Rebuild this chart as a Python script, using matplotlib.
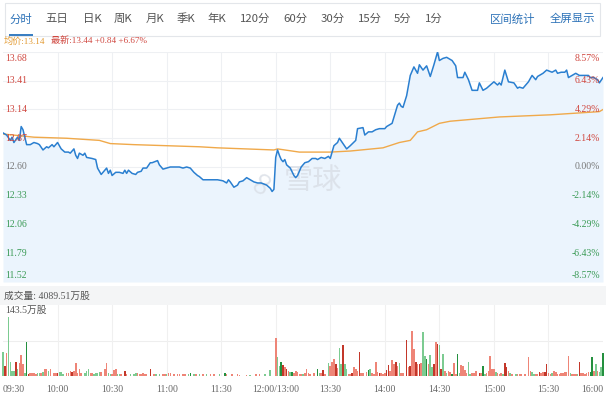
import matplotlib
matplotlib.use('Agg')
import matplotlib.pyplot as plt
from matplotlib.patches import Rectangle

# ---------------- data ----------------
tabs = ['分时', '五日', '日K', '周K', '月K', '季K', '年K', '120分', '60分', '30分', '15分', '5分', '1分']
tabs_right = ['区间统计', '全屏显示']

prev_close = 12.60
avg_price_now = 13.14
last_price = 13.44
change = 0.84
change_pct = 6.67
total_volume = '4089.51万股'
max_volume_label = '143.5万股'

price_ticks = [13.68, 13.41, 13.14, 12.87, 12.60, 12.33, 12.06, 11.79, 11.52]
pct_ticks = ['8.57%', '6.43%', '4.29%', '2.14%', '0.00%', '-2.14%', '-4.29%', '-6.43%', '-8.57%']

time_ticks = [0, 30, 60, 90, 120, 150, 180, 210, 240, 270, 300, 330]
time_labels = ['09:30', '10:00', '10:30', '11:00', '11:30', '12:00/13:00', '13:30',
               '14:00', '14:30', '15:00', '15:30', '16:00']

# minute index (0 = 09:30, 150 = 13:00, 330 = 16:00) and price
price_min = [0, 2, 4, 5, 6, 8, 9, 10, 11, 13, 15, 17, 19, 20, 22, 24, 25, 27, 28, 30,
             31, 32, 34, 36, 37, 39, 40, 41, 42, 44, 45, 46, 49, 51, 52, 54, 55, 57, 58, 59,
             60, 62, 64, 66, 67, 68, 69, 71, 73, 74, 76, 77, 79, 81, 82, 85, 86, 88, 90, 92,
             95, 97, 99, 101, 103, 105, 107, 108, 110, 112, 118, 121, 123, 124, 125, 127, 129, 130, 132, 134,
             136, 138, 140, 142, 145, 147, 148, 149, 150, 151, 152, 153, 154, 155, 156, 158, 160, 161, 162, 164,
             166, 168, 170, 172, 173, 175, 177, 179, 180, 182, 184, 185, 187, 189, 191, 194, 195, 198, 199, 201,
             203, 205, 207, 210, 211, 214, 217, 218, 219, 220, 222, 224, 226, 228, 229, 231, 233, 235, 237, 239,
             240, 242, 244, 247, 249, 250, 253, 254, 256, 258, 261, 262, 264, 266, 268, 270, 272, 273, 274, 276,
             278, 281, 283, 284, 286, 289, 291, 293, 294, 297, 299, 302, 304, 305, 307, 309, 310, 311, 313, 315,
             317, 322, 323, 325, 327, 328, 330]
price_val = [12.92, 12.90, 12.85, 12.88, 12.83, 12.88, 12.85, 12.98, 12.95, 12.81, 12.81, 12.83, 12.82, 12.81, 12.76, 12.79, 12.78, 12.81, 12.79, 12.83,
             12.80, 12.77, 12.74, 12.74, 12.73, 12.77, 12.71, 12.68, 12.73, 12.71, 12.73, 12.69, 12.68, 12.67, 12.59, 12.53, 12.55, 12.59, 12.54, 12.57,
             12.52, 12.55, 12.55, 12.54, 12.57, 12.54, 12.57, 12.54, 12.53, 12.55, 12.56, 12.59, 12.59, 12.64, 12.64, 12.66, 12.62, 12.58, 12.59, 12.60,
             12.60, 12.60, 12.59, 12.60, 12.59, 12.55, 12.52, 12.51, 12.48, 12.48, 12.48, 12.47, 12.45, 12.48, 12.46, 12.41, 12.43, 12.46, 12.47, 12.50,
             12.48, 12.46, 12.45, 12.45, 12.43, 12.40, 12.37, 12.39, 12.69, 12.76, 12.71, 12.67, 12.65, 12.67, 12.62, 12.59, 12.52, 12.50, 12.52, 12.60,
             12.64, 12.65, 12.68, 12.68, 12.67, 12.69, 12.68, 12.70, 12.68, 12.80, 12.83, 12.87, 12.82, 12.77, 12.80, 12.85, 12.96, 12.97, 12.90, 12.93,
             12.93, 12.95, 12.96, 12.96, 12.98, 13.01, 13.18, 13.20, 13.17, 13.16, 13.27, 13.46, 13.54, 13.48, 13.56, 13.51, 13.55, 13.45, 13.56, 13.68,
             13.60, 13.62, 13.63, 13.60, 13.55, 13.44, 13.44, 13.49, 13.42, 13.32, 13.32, 13.39, 13.32, 13.34, 13.37, 13.40, 13.37, 13.39, 13.37, 13.51,
             13.40, 13.39, 13.34, 13.35, 13.34, 13.40, 13.46, 13.42, 13.45, 13.48, 13.51, 13.49, 13.51, 13.48, 13.49, 13.49, 13.51, 13.44, 13.46, 13.48,
             13.46, 13.46, 13.44, 13.44, 13.42, 13.39, 13.44]

avg_min = [0, 17, 35, 53, 59, 72, 90, 108, 118, 149, 151, 163, 180, 191, 209, 218, 224, 228, 233, 240, 246, 273, 301, 328, 330]
avg_val = [12.91, 12.88, 12.87, 12.85, 12.82, 12.81, 12.80, 12.79, 12.78, 12.76, 12.77, 12.74, 12.74, 12.75, 12.78, 12.83, 12.85, 12.93, 12.95, 13.01, 13.03, 13.07, 13.09, 13.12, 13.14]

# volume per minute (万股) and bar shade: R light red, DR dark red, G light green, DG dark green
vol_min = [0, 1, 2, 3, 4, 5, 6, 7, 8, 9, 10, 11, 12, 13, 14, 15, 16, 17, 18, 19,
           20, 21, 22, 23, 24, 25, 26, 28, 29, 30, 31, 32, 33, 35, 36, 37, 38, 39, 40, 41,
           42, 43, 45, 46, 47, 48, 49, 50, 51, 52, 53, 54, 56, 57, 58, 59, 60, 61, 62, 63,
           64, 65, 67, 68, 70, 72, 73, 74, 75, 76, 77, 78, 79, 81, 83, 84, 86, 88, 89, 90,
           91, 92, 94, 96, 97, 99, 100, 102, 103, 105, 106, 108, 110, 112, 114, 116, 119, 122, 123, 126,
           129, 130, 134, 136, 139, 141, 144, 147, 150, 151, 152, 153, 154, 155, 156, 157, 158, 159, 160, 161,
           162, 163, 164, 165, 166, 167, 168, 169, 171, 173, 174, 175, 176, 177, 179, 180, 181, 182, 183, 184,
           185, 186, 187, 188, 189, 190, 191, 192, 193, 194, 195, 196, 197, 198, 200, 201, 202, 203, 204, 205,
           206, 207, 208, 209, 210, 211, 212, 213, 214, 215, 216, 217, 218, 219, 220, 222, 223, 224, 225, 226,
           227, 228, 229, 230, 231, 232, 233, 234, 235, 236, 237, 238, 239, 240, 241, 242, 243, 244, 245, 246,
           247, 248, 249, 250, 251, 252, 253, 254, 255, 256, 257, 258, 259, 260, 262, 263, 264, 265, 266, 267,
           268, 269, 270, 271, 272, 273, 274, 275, 276, 277, 278, 279, 280, 282, 283, 284, 285, 287, 289, 290,
           291, 292, 293, 294, 295, 296, 297, 298, 299, 300, 301, 302, 303, 304, 305, 306, 307, 308, 309, 310,
           311, 312, 313, 314, 315, 316, 317, 318, 319, 320, 321, 322, 323, 324, 325, 326, 327, 328, 329, 330]
vol_val = [60, 24, 57, 143.5, 34, 13, 13, 34, 17, 32, 52, 29, 8, 84, 6, 7, 8, 7, 4, 7,
           8, 7, 11, 18, 17, 13, 17, 7, 7, 8, 10, 10, 4, 7, 8, 13, 11, 13, 31, 8,
           17, 7, 7, 13, 18, 7, 7, 4, 7, 8, 10, 10, 18, 31, 8, 4, 6, 15, 17, 4,
           4, 6, 13, 4, 4, 6, 8, 7, 4, 6, 7, 4, 4, 18, 4, 4, 6, 4, 6, 6,
           8, 8, 4, 4, 4, 4, 4, 6, 8, 4, 4, 4, 4, 4, 4, 4, 6, 7, 6, 4,
           4, 3, 3, 3, 4, 4, 6, 14, 92, 46, 25, 35, 27, 21, 17, 13, 10, 10, 7, 13,
           11, 6, 6, 6, 8, 17, 7, 6, 7, 17, 8, 7, 15, 6, 31, 25, 35, 42, 29, 19,
           69, 29, 76, 29, 17, 4, 6, 8, 21, 18, 13, 60, 8, 7, 10, 14, 18, 8, 6, 35,
           10, 8, 8, 4, 8, 14, 27, 13, 38, 29, 34, 25, 31, 7, 7, 88, 21, 25, 111, 66,
           35, 29, 29, 31, 107, 49, 42, 29, 52, 21, 29, 84, 78, 76, 17, 53, 13, 8, 13, 10,
           4, 31, 4, 55, 8, 27, 25, 14, 8, 35, 6, 8, 8, 13, 7, 8, 24, 4, 8, 13,
           50, 18, 18, 10, 7, 6, 7, 4, 31, 23, 13, 8, 4, 6, 4, 4, 6, 6, 46, 13,
           11, 4, 4, 6, 11, 8, 10, 11, 29, 8, 6, 8, 13, 10, 6, 4, 8, 7, 10, 10,
           49, 8, 6, 6, 4, 6, 34, 7, 8, 6, 8, 10, 11, 46, 13, 29, 13, 10, 23, 57]
vol_col = ['G', 'DR', 'R', 'G', 'G', 'G', 'G', 'DR', 'G', 'R', 'R', 'R', 'G', 'DG', 'DR', 'R', 'R', 'R', 'R', 'G',
           'G', 'R', 'G', 'R', 'R', 'G', 'R', 'R', 'R', 'DR', 'G', 'G', 'G', 'R', 'R', 'R', 'DR', 'R', 'R', 'R',
           'R', 'R', 'G', 'G', 'G', 'R', 'R', 'G', 'G', 'G', 'G', 'R', 'R', 'R', 'G', 'G', 'R', 'R', 'R', 'G',
           'G', 'R', 'DR', 'R', 'G', 'G', 'G', 'R', 'R', 'R', 'R', 'R', 'R', 'DR', 'R', 'G', 'G', 'R', 'R', 'G',
           'R', 'R', 'R', 'R', 'R', 'R', 'R', 'G', 'DG', 'G', 'R', 'G', 'R', 'G', 'R', 'R', 'G', 'DG', 'R', 'R',
           'R', 'R', 'R', 'G', 'R', 'R', 'G', 'G', 'R', 'G', 'G', 'DG', 'DR', 'R', 'DR', 'R', 'G', 'DG', 'R', 'R',
           'R', 'R', 'R', 'G', 'R', 'R', 'R', 'R', 'R', 'DG', 'G', 'R', 'DR', 'R', 'G', 'R', 'R', 'R', 'DR', 'R',
           'G', 'G', 'DR', 'G', 'G', 'R', 'R', 'DR', 'R', 'R', 'R', 'DR', 'R', 'R', 'R', 'DG', 'G', 'R', 'R', 'R',
           'R', 'DR', 'R', 'R', 'R', 'DR', 'DR', 'R', 'R', 'R', 'DR', 'R', 'G', 'R', 'R', 'DR', 'R', 'DR', 'R', 'R',
           'DR', 'R', 'DR', 'R', 'G', 'G', 'DG', 'R', 'G', 'G', 'DR', 'R', 'DR', 'G', 'DR', 'G', 'R', 'G', 'R', 'R',
           'DG', 'R', 'R', 'DG', 'G', 'R', 'R', 'R', 'R', 'G', 'G', 'R', 'R', 'R', 'DR', 'R', 'DG', 'G', 'R', 'R',
           'R', 'R', 'R', 'G', 'R', 'R', 'R', 'G', 'DR', 'DR', 'R', 'G', 'R', 'G', 'R', 'R', 'R', 'R', 'R', 'R',
           'G', 'G', 'R', 'R', 'DR', 'R', 'R', 'DR', 'DR', 'R', 'R', 'G', 'R', 'R', 'R', 'R', 'R', 'R', 'R', 'R',
           'R', 'G', 'R', 'R', 'R', 'G', 'DR', 'R', 'R', 'R', 'R', 'R', 'DG', 'DG', 'R', 'G', 'R', 'G', 'G', 'DG']

# ---------------- styling ----------------
W, H = 606, 400
CJK = ['Noto Sans CJK SC', 'DejaVu Sans']
SERIF = ['Liberation Serif', 'Noto Sans CJK SC', 'DejaVu Sans']
BLUE_TXT = '#2e73b8'
RED = '#d0473f'
GREEN = '#3a9a55'
GRAY = '#777777'
shade = {'R': '#ee8577', 'DR': '#c3372a', 'G': '#7ccb91', 'DG': '#24903f'}

fig = plt.figure(figsize=(W / 100, H / 100), dpi=100)
fig.patch.set_facecolor('white')


def fx(x):
    return x / W


def fy(y):
    return 1 - y / H


# tab bar
fig.patches.append(Rectangle((fx(5), fy(36)), fx(595), 33 / H, transform=fig.transFigure,
                             fill=False, edgecolor='#e3e6ea', lw=0.8))
fig.patches.append(Rectangle((fx(9), fy(36)), fx(24), 2.5 / H, transform=fig.transFigure,
                             facecolor='#3a7fc2', edgecolor='none'))
tab_x = [21, 57, 92, 123, 155, 186, 217, 255, 295, 333, 370, 403, 434]
for t, x in zip(tabs, tab_x):
    fig.text(fx(x), fy(19), t, ha='center', va='center', fontsize=8.2, family=CJK,
             color=BLUE_TXT if t == '分时' else '#555555')
for t, x in zip(tabs_right, [513, 572]):
    fig.text(fx(x), fy(19), t, ha='center', va='center', fontsize=8.2, family=CJK, color=BLUE_TXT)

# header line
fig.text(fx(4), fy(41), f'均价:{avg_price_now:.2f}', ha='left', va='center',
         fontsize=6.6, family=SERIF, color='#e29a32')
fig.text(fx(51), fy(41), f'最新:{last_price:.2f} +{change:.2f} +{change_pct:.2f}%', ha='left',
         va='center', fontsize=6.6, family=SERIF, color=RED)

# ---------------- price panel ----------------
ax = fig.add_axes([fx(3), fy(282), 600 / W, 230 / H])
ax.set_xlim(0, 330)
ax.set_ylim(price_ticks[-1], price_ticks[0])
ax.axis('off')
for p in price_ticks:
    ax.axhline(p, color='#eef0f3', lw=0.8, zorder=0)
for t in time_ticks[1:-1]:
    ax.axvline(t, color='#eef0f3', lw=0.8, zorder=0)

ax.fill_between(price_min, price_val, price_ticks[-1], color='#ebf4fd', lw=0, zorder=1)
ax.plot(price_min, price_val, color='#2a7fd0', lw=1.1, zorder=4, solid_joinstyle='round')
ax.plot(avg_min, avg_val, color='#f0a94a', lw=1.0, zorder=3)

# watermark
ax.text(0.468, 0.44, '雪球', transform=ax.transAxes, ha='left', va='center', fontsize=21,
        family=CJK, color='#d9dee6', alpha=0.8, zorder=2)
ax.text(0.43, 0.44, '∞', transform=ax.transAxes, ha='center', va='center', fontsize=24,
        color='#d9dee6', alpha=0.8, zorder=2, rotation=60)

ytr = ax.get_yaxis_transform()
n = len(price_ticks)
for i, (p, lab) in enumerate(zip(price_ticks, pct_ticks)):
    if p > prev_close:
        c = RED
    elif p < prev_close:
        c = GREEN
    else:
        c = GRAY
    if i == 0:
        va, dy = 'top', -2
    elif i == n - 1:
        va, dy = 'bottom', 2
    else:
        va, dy = 'center', 0
    ax.annotate(f'{p:.2f}', xy=(0.003, p), xycoords=ytr, xytext=(0, dy), textcoords='offset pixels',
                ha='left', va=va, fontsize=7, family=SERIF, color=c, zorder=5)
    ax.annotate(lab, xy=(0.995, p), xycoords=ytr, xytext=(0, dy), textcoords='offset pixels',
                ha='right', va=va, fontsize=7, family=SERIF, color=c, zorder=5)

# ---------------- volume header band ----------------
fig.patches.append(Rectangle((0, fy(305)), 1, 19 / H, transform=fig.transFigure,
                             facecolor='#f4f5f6', edgecolor='none'))
fig.text(fx(4), fy(296), f'成交量: {total_volume}', ha='left', va='center', fontsize=7,
         family=SERIF, color='#555555')

# ---------------- volume panel ----------------
axv = fig.add_axes([fx(3), fy(376), 600 / W, 71 / H])
axv.set_xlim(0, 330)
axv.set_ylim(0, 174)
axv.axis('off')
axv.axhline(87, color='#eeeeee', lw=0.8, zorder=0)
for t in time_ticks[1:-1]:
    axv.axvline(t, color='#f0f0f0', lw=0.8, zorder=0)
axv.bar(vol_min, vol_val, width=0.85, color=[shade[c] for c in vol_col], lw=0, zorder=2,
        clip_on=False)
axv.text(0.003, 0.93, max_volume_label, transform=axv.transAxes, ha='left', va='center',
         fontsize=7, family=SERIF, color='#555555')

for t, lab in zip(time_ticks, time_labels):
    ha = 'left' if t == 0 else ('right' if t == 330 else 'center')
    axv.annotate(lab, xy=(t, 0), xycoords=axv.get_xaxis_transform(), xytext=(0, -14),
                 textcoords='offset pixels', ha=ha, va='center', fontsize=7, family=SERIF,
                 color='#666666', annotation_clip=False)

fig.savefig('out.png', dpi=100, facecolor='white')
